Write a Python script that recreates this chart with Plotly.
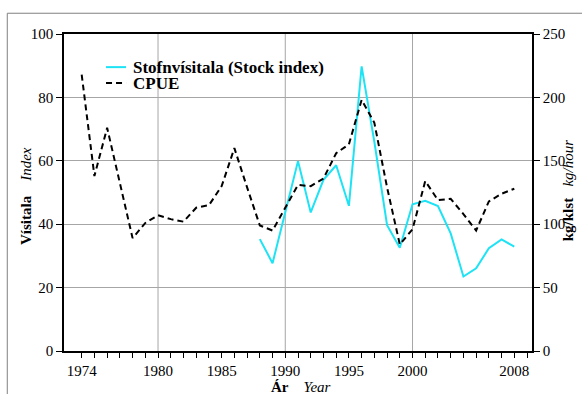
import plotly.graph_objects as go

# ---- data ----
cpue_years = list(range(1974, 2009))
cpue_kg_hour = [218, 138, 176, 132, 89, 101, 107, 104, 102, 113, 115, 130, 160, 129,
                99, 95, 113, 131, 130, 136, 156, 163, 198, 180, 129, 84, 96, 134,
                119, 120, 108, 95, 118, 124, 128]

index_years = list(range(1988, 2009))
stock_index = [35.3, 27.7, 43.8, 59.9, 43.7, 54.0, 58.6, 45.8, 89.8, 66.0, 39.7,
               32.6, 46.3, 47.4, 45.7, 37.1, 23.5, 26.1, 32.4, 35.2, 32.9]

labelled_years = [1974, 1980, 1985, 1990, 1995, 2000, 2008]
tick_years = list(range(1974, 2010))
grid_years = [1980, 1990, 2000]
left_ticks = [0, 20, 40, 60, 80, 100]
right_ticks = [0, 50, 100, 150, 200, 250]

CYAN = "#1de3f5"
FONT = "Liberation Serif"
TICKFONT = dict(family=FONT, size=15, color="black")

fig = go.Figure()
fig.add_trace(go.Scatter(x=index_years, y=stock_index, mode="lines",
                         name="Stofnvísitala (Stock index)",
                         line=dict(color=CYAN, width=2), showlegend=False))
fig.add_trace(go.Scatter(x=cpue_years, y=cpue_kg_hour, mode="lines", name="CPUE",
                         yaxis="y2",
                         line=dict(color="black", width=2, dash="6px,4px"),
                         showlegend=False))

for g in grid_years:
    fig.add_shape(type="line", xref="x", yref="paper", x0=g, x1=g, y0=0, y1=1,
                  line=dict(color="#a6a6a6", width=1), layer="below")

# outer frame
fig.add_shape(type="rect", xref="paper", yref="paper", x0=-0.1212, x1=1.3,
              y0=-0.4, y1=1.0655, line=dict(color="#808080", width=1))

# legend (manual, tight spacing)
fig.add_shape(type="line", xref="paper", yref="paper", x0=0.0898, x1=0.1326,
              y0=0.8955, y1=0.8955, line=dict(color=CYAN, width=2))
fig.add_shape(type="line", xref="paper", yref="paper", x0=0.0898, x1=0.1326,
              y0=0.8452, y1=0.8452, line=dict(color="black", width=2, dash="6px,4px"))
fig.add_annotation(xref="paper", yref="paper", x=0.144, y=0.8955, xanchor="left",
                   yanchor="middle", showarrow=False,
                   text="<b>Stofnvísitala (Stock index)</b>",
                   font=dict(family=FONT, size=17, color="black"))
fig.add_annotation(xref="paper", yref="paper", x=0.144, y=0.8452, xanchor="left",
                   yanchor="middle", showarrow=False, text="<b>CPUE</b>",
                   font=dict(family=FONT, size=17, color="black"))

# axis titles
fig.add_annotation(xref="paper", yref="paper", x=-0.0812, y=0.489, textangle=-90,
                   showarrow=False, xanchor="center", yanchor="middle",
                   text="<b>Vísitala</b>\u00a0\u00a0\u00a0\u00a0<i>Index</i>",
                   font=dict(family=FONT, size=15, color="black"))
fig.add_annotation(xref="paper", yref="paper", x=1.0776, y=0.505, textangle=-90,
                   showarrow=False, xanchor="center", yanchor="middle",
                   text="<b>kg/klst</b>\u00a0\u00a0\u00a0<i>kg/hour</i>",
                   font=dict(family=FONT, size=15, color="black"))
fig.add_annotation(xref="paper", yref="paper", x=0.507, y=-0.112,
                   showarrow=False, xanchor="center", yanchor="middle",
                   text="<b>Ár</b>\u00a0\u00a0\u00a0\u00a0<i>Year</i>",
                   font=dict(family=FONT, size=15, color="black"))

fig.update_layout(
    width=582, height=394,
    margin=dict(l=64, r=50.3, t=33.5, b=42.7),
    paper_bgcolor="white", plot_bgcolor="white",
    font=dict(family=FONT, size=15, color="black"),
    xaxis=dict(range=[1972.61, 2009.39], tickvals=tick_years,
               ticktext=[str(y) if y in labelled_years else "" for y in tick_years],
               ticks="outside", ticklen=5, tickwidth=1.2, tickcolor="black",
               tickfont=TICKFONT,
               showline=True, linecolor="black", linewidth=1.5, mirror=True,
               showgrid=False, zeroline=False),
    yaxis=dict(range=[0, 100], tickvals=left_ticks, ticks="outside", ticklen=6,
               tickwidth=1.2, tickcolor="black", tickfont=TICKFONT,
               showline=True, linecolor="black",
               linewidth=1.5, showgrid=True, gridcolor="#a6a6a6", gridwidth=1,
               zeroline=False),
    yaxis2=dict(range=[0, 250], tickvals=right_ticks, overlaying="y", side="right",
                ticks="outside", ticklen=6, tickwidth=1.2, tickcolor="black",
                tickfont=TICKFONT,
                showline=True, linecolor="black", linewidth=1.5, showgrid=False,
                zeroline=False),
)

fig.write_html("out.html", config={"displayModeBar": False},
               post_script="document.body.style.margin='0';document.body.style.padding='0';")
